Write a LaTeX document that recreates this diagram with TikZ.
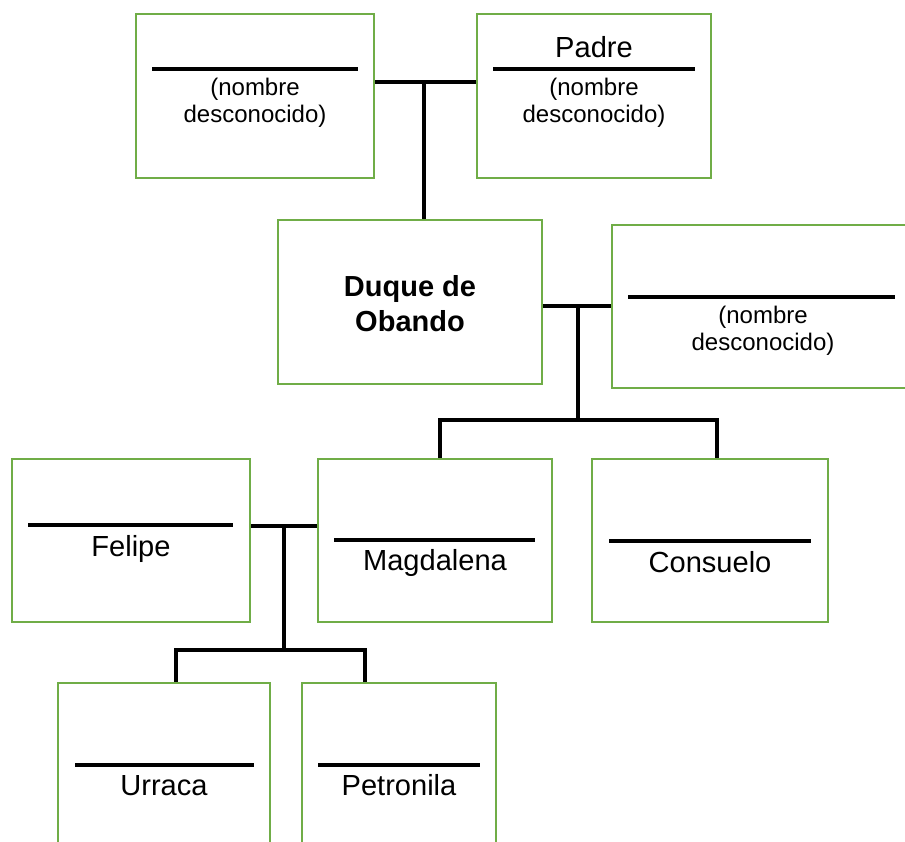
\documentclass[tikz,border=0pt]{standalone}
\usepackage{fontspec}
\setmainfont{Liberation Sans}
\definecolor{boxgreen}{RGB}{112,173,71}
\begin{document}
\begin{tikzpicture}[x=0.75pt,y=-0.75pt,
  person/.style={draw=boxgreen, line width=1.6pt, rectangle, inner sep=0pt, minimum height=122.5pt},
  bar/.style={line width=3.6pt, black},
  link/.style={line width=3.6pt, black, line join=miter},
  pname/.style={font=\fontsize{21.8}{25}\selectfont, anchor=base, inner sep=0pt},
  unk/.style={font=\fontsize{18}{20.25}\selectfont, align=center, inner sep=0pt},
  duque/.style={font=\bfseries\fontsize{21.75}{26.25}\selectfont, align=center, inner sep=0pt},
]
\useasboundingbox (0,0) rectangle (905,841);
\clip (0,0) rectangle (905,841);
% boxes
\node[person, minimum width=178.5pt] (A) at (255,96) {};
\node[person, minimum width=175.5pt] (B) at (594,96) {};
\node[person, minimum width=198pt] (D) at (410,302) {};
\node[person, minimum width=225pt] (S) at (762,306.5) {};
\node[person, minimum width=178.5pt] (F) at (131,540.5) {};
\node[person, minimum width=175.5pt] (M) at (435,540.5) {};
\node[person, minimum width=177pt] (C) at (710,540.5) {};
\node[person, minimum width=159pt] (U) at (164,764.5) {};
\node[person, minimum width=145.5pt] (P) at (399,764.5) {};
% inner bars
\draw[bar] (152,69) -- (358,69);
\draw[bar] (493,69) -- (695,69);
\draw[bar] (628,297) -- (895,297);
\draw[bar] (28,525) -- (233,525);
\draw[bar] (334,540) -- (535,540);
\draw[bar] (609,541) -- (811,541);
\draw[bar] (75,765) -- (254,765);
\draw[bar] (318,765) -- (480,765);
% texts
\node[unk] (Atext) at (255,103) {(nombre\\desconocido)};
\node[pname] (Bname) at (594,58) {Padre};
\node[unk] (Btext) at (594,103) {(nombre\\desconocido)};
\node[duque] (Dname) at (410,304) {Duque de\\Obando};
\node[unk] (Stext) at (763,331) {(nombre\\desconocido)};
\node[pname] (Fname) at (131,556) {Felipe};
\node[pname] (Mname) at (435,570) {Magdalena};
\node[pname] (Cname) at (710,572) {Consuelo};
\node[pname] (Uname) at (164,795) {Urraca};
\node[pname] (Pname) at (399,795) {Petronila};
% connectors
\coordinate (j1) at (424,82);
\draw[link] (A.east |- j1) -- (B.west |- j1);
\draw[link] (j1) -- (j1 |- D.north);
\coordinate (j2) at (578,306);
\coordinate (j2b) at (578,420);
\coordinate (s1) at (440,420);
\coordinate (s2) at (717,420);
\draw[link] (D.east |- j2) -- (S.west |- j2);
\draw[link] (j2) -- (j2b);
\draw[link] (s1 |- M.north) -- (s1) -- (s2) -- (s2 |- C.north);
\coordinate (j3) at (284,526);
\coordinate (j3b) at (284,650);
\coordinate (t1) at (176,650);
\coordinate (t2) at (365,650);
\draw[link] (F.east |- j3) -- (M.west |- j3);
\draw[link] (j3) -- (j3b);
\draw[link] (t1 |- U.north) -- (t1) -- (t2) -- (t2 |- P.north);
\end{tikzpicture}
\end{document}
